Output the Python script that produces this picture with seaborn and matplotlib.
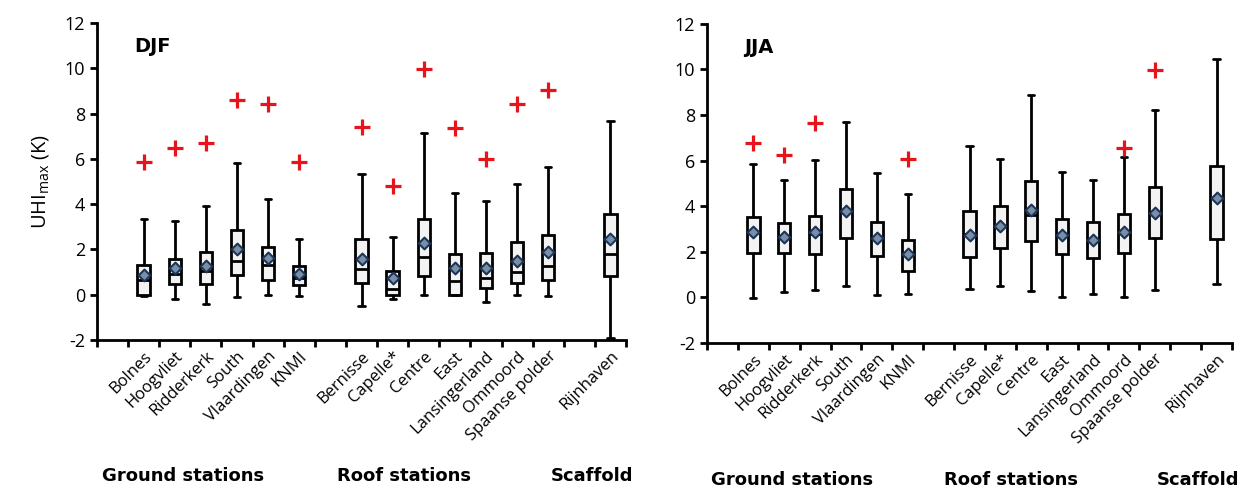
import numpy as np
import pandas as pd
import seaborn as sns
import matplotlib.pyplot as plt
from matplotlib.ticker import FixedLocator

# station slots (empty strings are gaps between the groups)
slots = ["", "Bolnes", "Hoogvliet", "Ridderkerk", "South", "Vlaardingen", "KNMI",
         "", "Bernisse", "Capelle*", "Centre", "East", "Lansingerland", "Ommoord",
         "Spaanse polder", "", "Rijnhaven"]
stations = [s for s in slots if s]

# DJF box statistics
djf_lo = [-0.05, -0.19, -0.41, -0.12, 0.0, -0.07, -0.51, -0.18, 0.0, 0.0, -0.32, -0.03, -0.07, -1.9]
djf_q1 = [0.0, 0.47, 0.49, 0.88, 0.66, 0.41, 0.51, 0.0, 0.81, 0.0, 0.28, 0.54, 0.66, 0.81]
djf_med = [0.66, 0.93, 1.03, 1.47, 1.32, 0.74, 1.13, 0.25, 1.65, 0.62, 0.74, 0.99, 1.29, 1.81]
djf_q3 = [1.32, 1.57, 1.87, 2.87, 2.1, 1.25, 2.47, 1.03, 3.35, 1.79, 1.84, 2.31, 2.65, 3.56]
djf_hi = [3.34, 3.26, 3.9, 5.81, 4.24, 2.46, 5.34, 2.54, 7.16, 4.49, 4.12, 4.9, 5.66, 7.68]
djf_mean = [0.88, 1.2, 1.25, 2.01, 1.62, 0.93, 1.57, 0.74, 2.28, 1.16, 1.16, 1.47, 1.88, 2.46]
djf_max = [5.88, 6.47, 6.72, 8.6, 8.43, 5.88, 7.43, 4.81, 9.96, 7.35, 6.0, 8.41, 9.04, None]

# JJA box statistics
jja_lo = [-0.04, 0.22, 0.32, 0.51, 0.1, 0.15, 0.35, 0.51, 0.26, 0.03, 0.15, 0.03, 0.32, 0.59]
jja_q1 = [1.95, 1.95, 1.91, 2.6, 1.83, 1.14, 1.79, 2.16, 2.49, 1.91, 1.72, 1.95, 2.61, 2.55]
jja_med = [2.85, 2.65, 2.8, 3.8, 2.6, 1.9, 2.79, 3.14, 3.62, 2.74, 2.55, 2.86, 3.7, 4.35]
jja_q3 = [3.52, 3.26, 3.55, 4.77, 3.33, 2.52, 3.77, 4.0, 5.09, 3.42, 3.3, 3.67, 4.84, 5.75]
jja_hi = [5.87, 5.13, 6.04, 7.7, 5.47, 4.55, 6.63, 6.06, 8.87, 5.5, 5.13, 6.16, 8.24, 10.44]
jja_mean = [2.86, 2.67, 2.86, 3.78, 2.6, 1.91, 2.74, 3.14, 3.84, 2.74, 2.52, 2.86, 3.71, 4.37]
jja_max = [6.77, 6.23, 7.67, None, None, 6.06, None, None, None, None, None, 6.55, 9.97, None]

groups = ["Ground stations", "Roof stations", "Scaffold"]
group_x = [2.27, 9.35, 15.4]


def build(lo, q1, med, q3, hi, mean, mx):
    box = pd.DataFrame({
        "station": np.repeat(stations, 5),
        "value": np.column_stack([lo, q1, med, q3, hi]).ravel(),
    })
    means = pd.DataFrame({"station": stations, "value": mean})
    maxes = pd.DataFrame({"station": stations, "value": mx}).dropna()
    return box, means, maxes


def panel(ax, season, data):
    box, means, maxes = data
    order = [s if s else " " * (i + 1) for i, s in enumerate(slots)]
    sns.boxplot(data=box, x="station", y="value", order=order, whis=(0, 100),
                width=0.4, color="#f3f3f3", linecolor="black", linewidth=2,
                saturation=1, showfliers=False, ax=ax)
    sns.stripplot(data=means, x="station", y="value", order=order, jitter=False,
                  marker="D", size=6, color="#7b8ea8", edgecolor="#1c3557",
                  linewidth=1.5, ax=ax, zorder=5)
    sns.stripplot(data=maxes, x="station", y="value", order=order, jitter=False,
                  marker="+", size=11, color="#e8141b", linewidth=2.3, ax=ax, zorder=5)

    ax.set_xlim(-0.5, len(slots) - 0.5)
    ax.set_ylim(-2, 12)
    ax.set_yticks(range(-2, 13, 2))
    ax.set_xticks(range(len(slots)))
    ax.set_xticklabels(slots, rotation=45, ha="right", rotation_mode="anchor")
    ax.xaxis.set_minor_locator(FixedLocator(np.arange(-0.5, len(slots), 1)))
    ax.tick_params(axis="x", which="major", length=0, pad=6, labelsize=12)
    ax.tick_params(axis="x", which="minor", length=5, width=2, direction="out")
    ax.tick_params(axis="y", length=5, width=2, labelsize=13)
    for sp in ["left", "bottom"]:
        ax.spines[sp].set_linewidth(2)
        ax.spines[sp].set_color("black")
    sns.despine(ax=ax)
    ax.set_xlabel("")
    ax.set_ylabel("")
    ax.text(0.07, 0.925, season, transform=ax.transAxes, fontsize=14,
            fontweight="bold", family="DejaVu Sans", va="center")
    for g, gx in zip(groups, group_x):
        ax.text(gx, -0.43, g, transform=ax.get_xaxis_transform(), ha="center",
                va="center", fontsize=13, fontweight="bold", family="DejaVu Sans")


sns.set_style("ticks")
plt.rcParams["font.family"] = ["Open Sans", "DejaVu Sans"]
plt.rcParams["axes.unicode_minus"] = False
plt.rcParams["text.color"] = "black"
plt.rcParams["axes.labelcolor"] = "black"
plt.rcParams["xtick.color"] = "black"
plt.rcParams["ytick.color"] = "black"

fig = plt.figure(figsize=(12.5, 4.91), dpi=100)
ax1 = fig.add_axes([0.0776, 0.3075, 0.4232, 0.6456])
ax2 = fig.add_axes([0.5656, 0.3014, 0.42, 0.65])

panel(ax1, "DJF", build(djf_lo, djf_q1, djf_med, djf_q3, djf_hi, djf_mean, djf_max))
panel(ax2, "JJA", build(jja_lo, jja_q1, jja_med, jja_q3, jja_hi, jja_mean, jja_max))
ax1.set_ylabel("UHI$_{\\mathregular{max}}$ (K)", fontsize=14.5, labelpad=10)

fig.savefig("out.png", dpi=100)
